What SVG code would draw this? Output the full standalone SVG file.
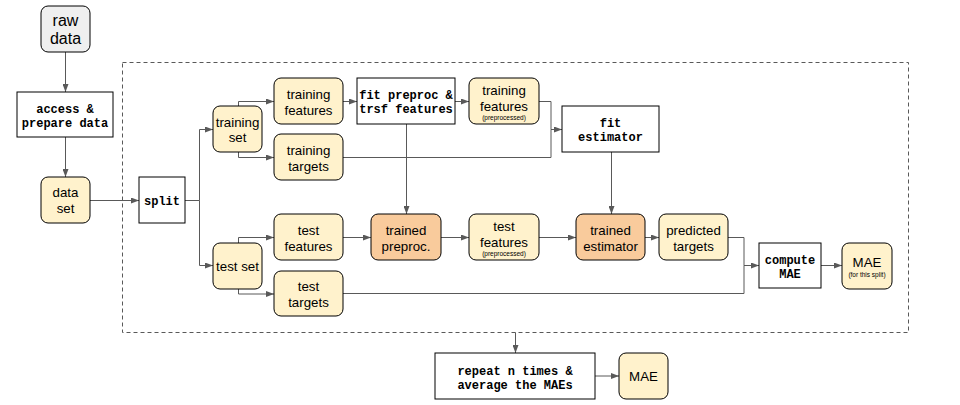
<svg xmlns="http://www.w3.org/2000/svg" width="960" height="405" viewBox="0 0 960 405">
<defs>
<marker id="ah" markerUnits="userSpaceOnUse" markerWidth="8" markerHeight="6" refX="8" refY="3" orient="auto">
<path d="M0,0 L8,3 L0,6 z" fill="#595959"/>
</marker>
<style>
.y{fill:#fff2cc;stroke:#000;stroke-width:1}
.o{fill:#f9cb9c;stroke:#000;stroke-width:1}
.g{fill:#efefef;stroke:#000;stroke-width:1}
.w{fill:#fff;stroke:#000;stroke-width:1}
.s{font-family:"Liberation Sans",Arial,sans-serif;font-size:13.3px;fill:#000;text-anchor:middle}
.m{font-family:"Liberation Mono","Courier New",monospace;font-size:12px;font-weight:bold;fill:#000;text-anchor:middle}
.t{font-family:"Liberation Sans",Arial,sans-serif;font-size:6.5px;fill:#000;text-anchor:middle}
.c path{fill:none;stroke:#595959;stroke-width:1}
.a{marker-end:url(#ah)}
</style>
</defs>
<rect width="960" height="405" fill="#fff"/>
<rect x="122.5" y="62.5" width="786" height="270" fill="none" stroke="#595959" stroke-width="1" stroke-dasharray="4,3"/>
<g class="c" id="connectors">
<path class="a" d="M65.5,52 V92"/>
<path class="a" d="M65.5,137 V177"/>
<path class="a" d="M90,200.5 H139"/>
<path class="a" d="M185,200.5 H199.5 V129.5 H213"/>
<path class="a" d="M199.5,200.5 V265.5 H213"/>
<path class="a" d="M238.5,106 V101.5 H274"/>
<path class="a" d="M238.5,152 V157.5 H274"/>
<path class="a" d="M343,101.5 H357"/>
<path class="a" d="M455,101.5 H469"/>
<path class="a" d="M539,101.5 H551 V129.5 H562"/>
<path d="M343,157.5 H551 V129.5"/>
<path class="a" d="M406.5,124 V214"/>
<path class="a" d="M611.5,152 V214"/>
<path class="a" d="M238.5,243 V237.5 H274"/>
<path class="a" d="M238.5,289 V294 H274"/>
<path class="a" d="M343,237.5 H371"/>
<path class="a" d="M441,237.5 H469"/>
<path class="a" d="M539,237.5 H576"/>
<path class="a" d="M645,237.5 H659"/>
<path class="a" d="M728,237.5 H744 V265.5 H759"/>
<path d="M343,293.5 H744 V265.5"/>
<path class="a" d="M821,265.5 H842"/>
<path class="a" d="M515.5,332.5 V353"/>
<path class="a" d="M595,376 H619"/>
</g>
<g id="raw-data"><rect class="g" x="41" y="6" width="49" height="46" rx="7"/><text class="s" style="font-size:16px" x="65.5" y="26">raw</text><text class="s" style="font-size:16px" x="65.5" y="44">data</text></g>
<g id="access"><rect class="w" x="17" y="92" width="96" height="45"/><text class="m" x="65" y="113">access &amp;</text><text class="m" x="65" y="127">prepare data</text></g>
<g id="data-set"><rect class="y" x="41" y="177" width="49" height="46" rx="7"/><text class="s" x="65.5" y="197">data</text><text class="s" x="65.5" y="213">set</text></g>
<g id="split"><rect class="w" x="139" y="177" width="46" height="46"/><text class="m" x="162" y="205">split</text></g>
<g id="training-set"><rect class="y" x="213" y="106" width="49" height="46" rx="7"/><text class="s" x="237.5" y="127">training</text><text class="s" x="237.5" y="142">set</text></g>
<g id="training-features"><rect class="y" x="274" y="78" width="69" height="46" rx="7"/><text class="s" x="308.5" y="99">training</text><text class="s" x="308.5" y="115">features</text></g>
<g id="training-targets"><rect class="y" x="274" y="134" width="69" height="46" rx="7"/><text class="s" x="308.5" y="155">training</text><text class="s" x="308.5" y="171">targets</text></g>
<g id="fit-preproc"><rect class="w" x="357" y="78" width="98" height="46"/><text class="m" x="406" y="99">fit preproc &amp;</text><text class="m" x="406" y="113">trsf features</text></g>
<g id="training-features-pre"><rect class="y" x="469" y="78" width="70" height="46" rx="7"/><text class="s" x="504" y="95">training</text><text class="s" x="504" y="110.5">features</text><text class="t" x="504" y="120">(preprocessed)</text></g>
<g id="fit-estimator"><rect class="w" x="562" y="106" width="97" height="46"/><text class="m" x="610.5" y="127">fit</text><text class="m" x="610.5" y="141">estimator</text></g>
<g id="test-set"><rect class="y" x="213" y="243" width="49" height="46" rx="7"/><text class="s" x="237.5" y="270.5">test set</text></g>
<g id="test-features"><rect class="y" x="274" y="214" width="69" height="46" rx="7"/><text class="s" x="308.5" y="235">test</text><text class="s" x="308.5" y="251">features</text></g>
<g id="test-targets"><rect class="y" x="274" y="271" width="69" height="45" rx="7"/><text class="s" x="308.5" y="291">test</text><text class="s" x="308.5" y="307">targets</text></g>
<g id="trained-preproc"><rect class="o" x="371" y="214" width="70" height="46" rx="7"/><text class="s" x="406" y="235">trained</text><text class="s" x="406" y="251">preproc.</text></g>
<g id="test-features-pre"><rect class="y" x="469" y="214" width="70" height="46" rx="7"/><text class="s" x="504" y="231">test</text><text class="s" x="504" y="246.5">features</text><text class="t" x="504" y="256">(preprocessed)</text></g>
<g id="trained-estimator"><rect class="o" x="576" y="214" width="69" height="46" rx="7"/><text class="s" x="610.5" y="235">trained</text><text class="s" x="610.5" y="251">estimator</text></g>
<g id="predicted-targets"><rect class="y" x="659" y="214" width="69" height="46" rx="7"/><text class="s" x="693.5" y="235">predicted</text><text class="s" x="693.5" y="251">targets</text></g>
<g id="compute-mae"><rect class="w" x="759" y="243" width="62" height="45"/><text class="m" x="790" y="264">compute</text><text class="m" x="790" y="278">MAE</text></g>
<g id="mae-split"><rect class="y" x="842" y="243" width="50" height="46" rx="7"/><text class="s" x="867" y="266.5">MAE</text><text class="t" x="867" y="277">(for this split)</text></g>
<g id="repeat"><rect class="w" x="435" y="353" width="160" height="46"/><text class="m" x="515" y="375">repeat n times &amp;</text><text class="m" x="515" y="389">average the MAEs</text></g>
<g id="mae"><rect class="y" x="619" y="353" width="49" height="46" rx="7"/><text class="s" x="643.5" y="381">MAE</text></g>
</svg>
